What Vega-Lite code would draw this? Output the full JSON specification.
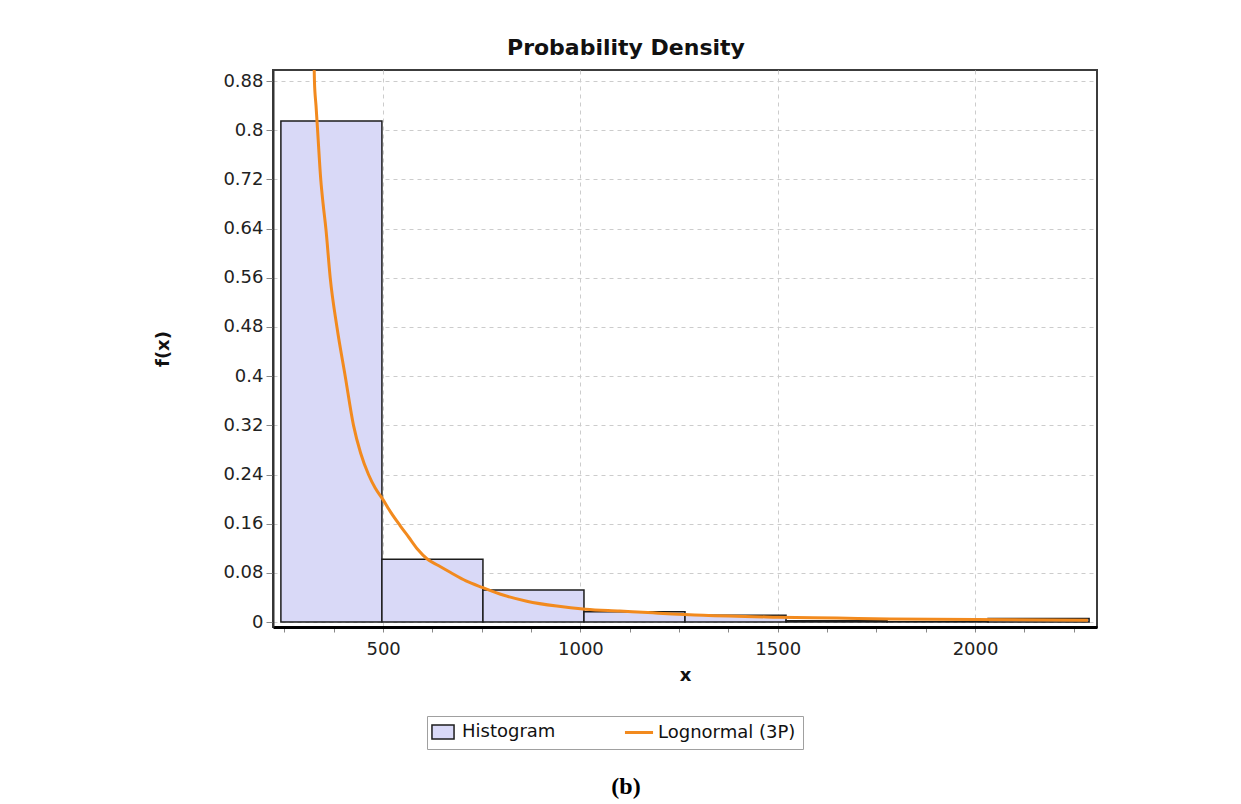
{
  "$schema": "https://vega.github.io/schema/vega-lite/v6.json",
  "background": "white",
  "padding": {"left": 153, "top": 36, "right": 0, "bottom": 0},
  "title": {"text": "(b)", "orient": "bottom", "anchor": "middle", "font": "Liberation Serif", "fontSize": 24, "fontWeight": "bold", "color": "#000", "offset": 25, "baseline": "top"},
  "datasets": {
    "hist": [
      {"bin_start": 241, "bin_end": 497, "density": 0.815, "series": "Histogram"},
      {"bin_start": 497, "bin_end": 753, "density": 0.102, "series": "Histogram"},
      {"bin_start": 753, "bin_end": 1009, "density": 0.052, "series": "Histogram"},
      {"bin_start": 1009, "bin_end": 1265, "density": 0.017, "series": "Histogram"},
      {"bin_start": 1265, "bin_end": 1521, "density": 0.011, "series": "Histogram"},
      {"bin_start": 1521, "bin_end": 1777, "density": 0.002, "series": "Histogram"},
      {"bin_start": 1777, "bin_end": 2033, "density": 0.0005, "series": "Histogram"},
      {"bin_start": 2033, "bin_end": 2289, "density": 0.006, "series": "Histogram"}
    ],
    "curve": [
      {"x": 325, "f": 0.91, "series": "Lognormal (3P)"},
      {"x": 326, "f": 0.88, "series": "Lognormal (3P)"},
      {"x": 330, "f": 0.84, "series": "Lognormal (3P)"},
      {"x": 334, "f": 0.80, "series": "Lognormal (3P)"},
      {"x": 342, "f": 0.72, "series": "Lognormal (3P)"},
      {"x": 348, "f": 0.68, "series": "Lognormal (3P)"},
      {"x": 355, "f": 0.64, "series": "Lognormal (3P)"},
      {"x": 366, "f": 0.56, "series": "Lognormal (3P)"},
      {"x": 383, "f": 0.48, "series": "Lognormal (3P)"},
      {"x": 404, "f": 0.40, "series": "Lognormal (3P)"},
      {"x": 425, "f": 0.32, "series": "Lognormal (3P)"},
      {"x": 443, "f": 0.275, "series": "Lognormal (3P)"},
      {"x": 463, "f": 0.24, "series": "Lognormal (3P)"},
      {"x": 480, "f": 0.218, "series": "Lognormal (3P)"},
      {"x": 499, "f": 0.20, "series": "Lognormal (3P)"},
      {"x": 520, "f": 0.178, "series": "Lognormal (3P)"},
      {"x": 543, "f": 0.157, "series": "Lognormal (3P)"},
      {"x": 565, "f": 0.138, "series": "Lognormal (3P)"},
      {"x": 588, "f": 0.118, "series": "Lognormal (3P)"},
      {"x": 611, "f": 0.103, "series": "Lognormal (3P)"},
      {"x": 640, "f": 0.092, "series": "Lognormal (3P)"},
      {"x": 670, "f": 0.081, "series": "Lognormal (3P)"},
      {"x": 710, "f": 0.067, "series": "Lognormal (3P)"},
      {"x": 753, "f": 0.056, "series": "Lognormal (3P)"},
      {"x": 804, "f": 0.044, "series": "Lognormal (3P)"},
      {"x": 864, "f": 0.034, "series": "Lognormal (3P)"},
      {"x": 940, "f": 0.026, "series": "Lognormal (3P)"},
      {"x": 1013, "f": 0.021, "series": "Lognormal (3P)"},
      {"x": 1100, "f": 0.018, "series": "Lognormal (3P)"},
      {"x": 1184, "f": 0.015, "series": "Lognormal (3P)"},
      {"x": 1311, "f": 0.011, "series": "Lognormal (3P)"},
      {"x": 1500, "f": 0.008, "series": "Lognormal (3P)"},
      {"x": 1650, "f": 0.0065, "series": "Lognormal (3P)"},
      {"x": 1784, "f": 0.005, "series": "Lognormal (3P)"},
      {"x": 2000, "f": 0.004, "series": "Lognormal (3P)"},
      {"x": 2286, "f": 0.003, "series": "Lognormal (3P)"}
    ]
  },
  "vconcat": [
    {
      "width": 824,
      "height": 557,
      "title": {"text": "Probability Density", "font": "DejaVu Sans", "fontSize": 22, "fontWeight": "bold", "color": "#111", "baseline": "alphabetic", "offset": -7, "anchor": "middle", "frame": "bounds"},
      "layer": [
        {
          "data": {"name": "hist"},
          "mark": {"type": "bar", "stroke": "#1c1c1c", "strokeWidth": 1.5, "clip": true},
          "encoding": {
            "x": {
              "field": "bin_start", "type": "quantitative", "title": "x",
              "scale": {"domain": [221, 2309], "nice": false, "zero": false},
              "axis": {
                "values": [250, 375, 500, 625, 750, 875, 1000, 1125, 1250, 1375, 1500, 1625, 1750, 1875, 2000, 2125, 2250],
                "format": "d",
                "labelExpr": "datum.value % 500 === 0 ? datum.label : ''",
                "labelOverlap": false, "labelFlush": false, "labelBound": false,
                "tickSize": 5, "tickColor": "#888", "tickWidth": 1,
                "labelPadding": 8,
                "domainColor": "#000", "domainWidth": 3,
                "grid": true,
                "gridOpacity": {"condition": {"test": "datum.value % 500 === 0", "value": 1}, "value": 0},
                "titlePadding": 8
              }
            },
            "x2": {"field": "bin_end"},
            "y": {
              "field": "density", "type": "quantitative", "title": "f(x)",
              "scale": {"domain": [-0.008, 0.898], "nice": false, "zero": false},
              "axis": {
                "values": [0, 0.02, 0.04, 0.06, 0.08, 0.1, 0.12, 0.14, 0.16, 0.18, 0.2, 0.22, 0.24, 0.26, 0.28, 0.3, 0.32, 0.34, 0.36, 0.38, 0.4, 0.42, 0.44, 0.46, 0.48, 0.5, 0.52, 0.54, 0.56, 0.58, 0.6, 0.62, 0.64, 0.66, 0.68, 0.7, 0.72, 0.74, 0.76, 0.78, 0.8, 0.82, 0.84, 0.86, 0.88],
                "labelExpr": "round(datum.value * 100) % 8 === 0 ? toString(round(datum.value * 100) / 100) : ''",
                "labelOverlap": false, "labelFlush": false, "labelBound": false,
                "tickSize": {"condition": {"test": "round(datum.value * 100) % 8 === 0", "value": 7}, "value": 4},
                "tickColor": "#888", "tickWidth": 1,
                "labelPadding": 3,
                "domainColor": "#333", "domainWidth": 2,
                "grid": true,
                "gridOpacity": {"condition": {"test": "round(datum.value * 100) % 8 === 0", "value": 1}, "value": 0},
                "titlePadding": 50
              }
            },
            "y2": {"datum": 0},
            "color": {
              "field": "series", "type": "nominal",
              "scale": {"domain": ["Histogram", "Lognormal (3P)"], "range": ["#d9d9f7", "#f28a1e"]},
              "legend": {
                "orient": "none", "legendX": 154, "legendY": 646,
                "direction": "horizontal", "title": null,
                "strokeColor": "#a0a0a0", "fillColor": "white", "padding": 7,
                "symbolSize": 576,
                "symbolType": {"expr": "datum.value === 'Histogram' ? 'M-0.92,-0.58H0.92V0.58H-0.92Z' : 'M-1.17,0H1.17'"},
                "symbolStrokeColor": {"expr": "datum.value === 'Histogram' ? '#1c1c1c' : '#f28a1e'"},
                "symbolStrokeWidth": {"expr": "datum.value === 'Histogram' ? 1.5 : 3"},
                "symbolOpacity": 1,
                "labelFont": "DejaVu Sans", "labelFontSize": 18, "labelColor": "#111", "labelOffset": 10,
                "columnPadding": 62
              }
            }
          }
        },
        {
          "data": {"name": "curve"},
          "mark": {"type": "line", "stroke": "#f28a1e", "strokeWidth": 3, "clip": true, "interpolate": "monotone"},
          "encoding": {
            "x": {"field": "x", "type": "quantitative", "title": "x"},
            "y": {"field": "f", "type": "quantitative", "title": "f(x)"},
            "detail": {"field": "series", "type": "nominal"}
          }
        }
      ]
    }
  ],
  "config": {
    "view": {"stroke": "#3c3c3c", "strokeWidth": 2},
    "axis": {
      "labelFont": "DejaVu Sans", "labelFontSize": 18, "labelColor": "#222",
      "titleFont": "DejaVu Sans", "titleFontSize": 18, "titleFontWeight": "bold", "titleColor": "#111",
      "gridDash": [4, 4], "gridColor": "#cccccc", "gridWidth": 1
    },
    "concat": {"spacing": 0}
  }
}
